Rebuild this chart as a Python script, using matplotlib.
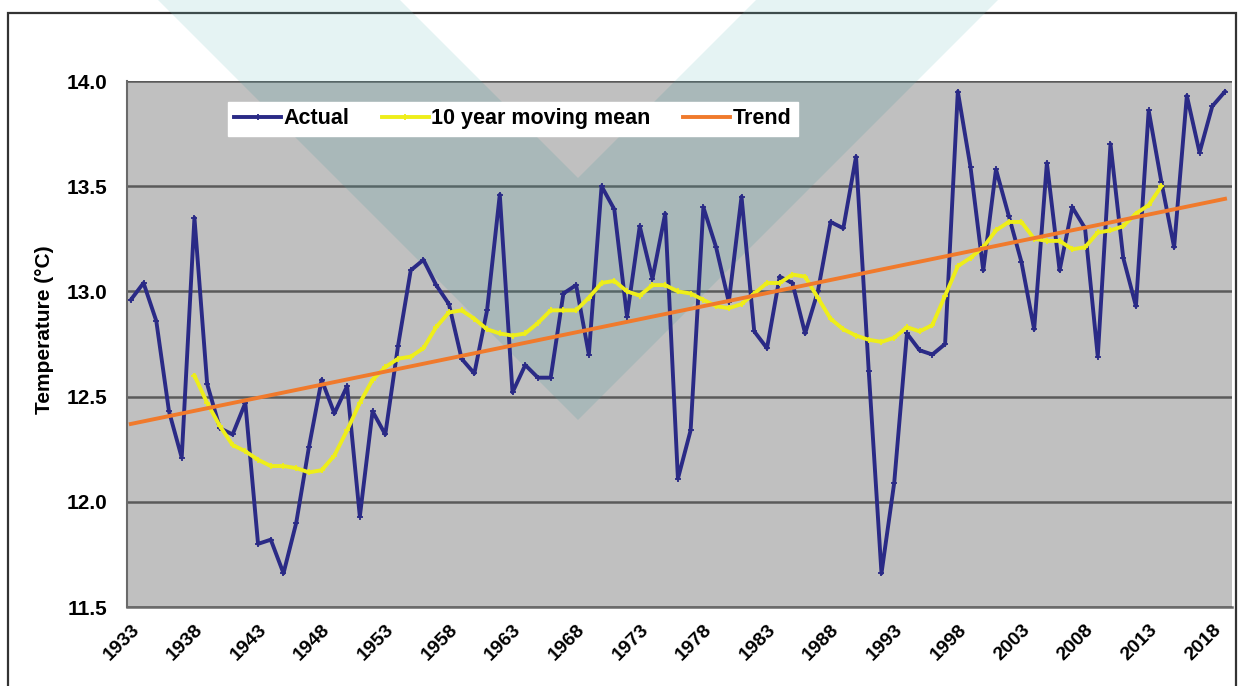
import numpy as np
import matplotlib
matplotlib.use('Agg')
import matplotlib.pyplot as plt
from matplotlib.patches import Polygon, Rectangle

plt.rcParams['font.family'] = ['Liberation Sans', 'DejaVu Sans']

# annual mean temperature (deg C), 1933-2019
years = np.arange(1933, 2020)
actual = [12.96, 13.04, 12.86, 12.43, 12.21, 13.35, 12.56, 12.35, 12.32, 12.47,
          11.80, 11.82, 11.66, 11.90, 12.26, 12.58, 12.42, 12.55, 11.93, 12.43,
          12.32, 12.74, 13.10, 13.15, 13.03, 12.94, 12.68, 12.61, 12.91, 13.46,
          12.52, 12.65, 12.59, 12.59, 12.99, 13.03, 12.70, 13.50, 13.39, 12.88,
          13.31, 13.06, 13.37, 12.11, 12.34, 13.40, 13.21, 12.95, 13.45, 12.81,
          12.73, 13.07, 13.04, 12.80, 13.00, 13.33, 13.30, 13.64, 12.62, 11.66,
          12.09, 12.80, 12.72, 12.70, 12.75, 13.95, 13.59, 13.10, 13.58, 13.36,
          13.14, 12.82, 13.61, 13.10, 13.40, 13.30, 12.69, 13.70, 13.16, 12.93,
          13.86, 13.52, 13.21, 13.93, 13.66, 13.88, 13.95]

# 10 year moving mean, 1938-2014
mean_years = np.arange(1938, 2015)
moving_mean = [12.60, 12.47, 12.36, 12.27, 12.24, 12.20, 12.17, 12.17, 12.16, 12.14,
               12.15, 12.22, 12.34, 12.47, 12.58, 12.64, 12.68, 12.69, 12.73, 12.83,
               12.90, 12.91, 12.87, 12.82, 12.80, 12.79, 12.80, 12.85, 12.91, 12.91,
               12.91, 12.97, 13.04, 13.05, 13.00, 12.98, 13.03, 13.03, 13.00, 12.99,
               12.96, 12.93, 12.92, 12.94, 12.99, 13.04, 13.04, 13.08, 13.07, 12.97,
               12.87, 12.82, 12.79, 12.77, 12.76, 12.78, 12.83, 12.81, 12.84, 12.98,
               13.12, 13.16, 13.21, 13.29, 13.33, 13.33, 13.25, 13.24, 13.24, 13.20,
               13.21, 13.28, 13.29, 13.31, 13.37, 13.41, 13.50]

# linear trend end points
trend_years = [1933, 2019]
trend = [12.37, 13.44]

year_ticks = np.arange(1933, 2019, 5)
temp_ticks = [11.5, 12.0, 12.5, 13.0, 13.5, 14.0]

W, H = 1242, 686
fig = plt.figure(figsize=(W / 100, H / 100), dpi=100)
ax = fig.add_axes([127 / W, 1 - 607 / H, (1232 - 127) / W, (607 - 81) / H])
ax.set_facecolor('#c0c0c0')

# outer frame
fig.patches.append(Rectangle((8 / W, -0.05), (1236 - 8) / W, 1 - 13 / H + 0.05,
                             transform=fig.transFigure, fill=False,
                             edgecolor='#333333', linewidth=1.6, zorder=-2))

# faint watermark V
v_pts = [(158, 0), (578, 420), (998, 0), (756, 0), (578, 178), (400, 0)]
v_pts = [(x / W, 1 - y / H) for x, y in v_pts]
fig.patches.append(Polygon(v_pts, closed=True, transform=fig.transFigure,
                           facecolor=(0.45, 0.75, 0.75), alpha=0.18,
                           edgecolor='none', zorder=-1))
ax.add_patch(Polygon(v_pts, closed=True, transform=fig.transFigure,
                     facecolor=(0.3, 0.6, 0.62), alpha=0.2,
                     edgecolor='none', zorder=1.5))

ax.plot(years, actual, color='#2a2a86', linewidth=2.8, marker='+',
        markersize=4, markeredgewidth=1.3, label='Actual', zorder=4)
ax.plot(mean_years, moving_mean, color='#eeee1a', linewidth=2.8, marker='+',
        markersize=4, markeredgewidth=1.3, label='10 year moving mean', zorder=5)
ax.plot(trend_years, trend, color='#f07a2c', linewidth=2.8,
        label='Trend', zorder=6)

ax.set_xlim(1932.7, 2019.55)
ax.set_ylim(11.5, 14.0)
ax.set_yticks(temp_ticks)
ax.set_yticklabels(['%.1f' % t for t in temp_ticks], fontsize=15, fontweight='bold')
ax.set_xticks(year_ticks)
ax.set_xticklabels([str(y) for y in year_ticks], fontsize=14, fontweight='bold',
                   rotation=45, ha='right', rotation_mode='anchor')
ax.tick_params(axis='both', length=0)
ax.tick_params(axis='y', pad=14)
ax.tick_params(axis='x', pad=10)

ax.yaxis.grid(True, color='#5a5a5a', linewidth=1.8)
ax.set_axisbelow(True)
for s in ['top', 'right']:
    ax.spines[s].set_visible(False)
ax.spines['left'].set_color('#6a6a6a')
ax.spines['left'].set_linewidth(1.5)
ax.spines['bottom'].set_color('#6a6a6a')
ax.spines['bottom'].set_linewidth(1.8)

fig.text(45 / W, 1 - 330 / H, 'Temperature (\u00b0C)', rotation=90,
         ha='center', va='center', fontsize=15, fontweight='bold')

leg = ax.legend(loc='upper left', bbox_to_anchor=(0.091, 0.96), ncol=3,
                prop={'size': 15.5, 'weight': 'bold'}, frameon=True, fancybox=False,
                handlelength=2.2, handletextpad=0.1, columnspacing=1.5,
                borderpad=0.3, borderaxespad=0)
leg.get_frame().set_facecolor('white')
leg.get_frame().set_edgecolor('white')
leg.get_frame().set_alpha(1)
leg.set_zorder(7)

fig.savefig('out.png', dpi=100)
